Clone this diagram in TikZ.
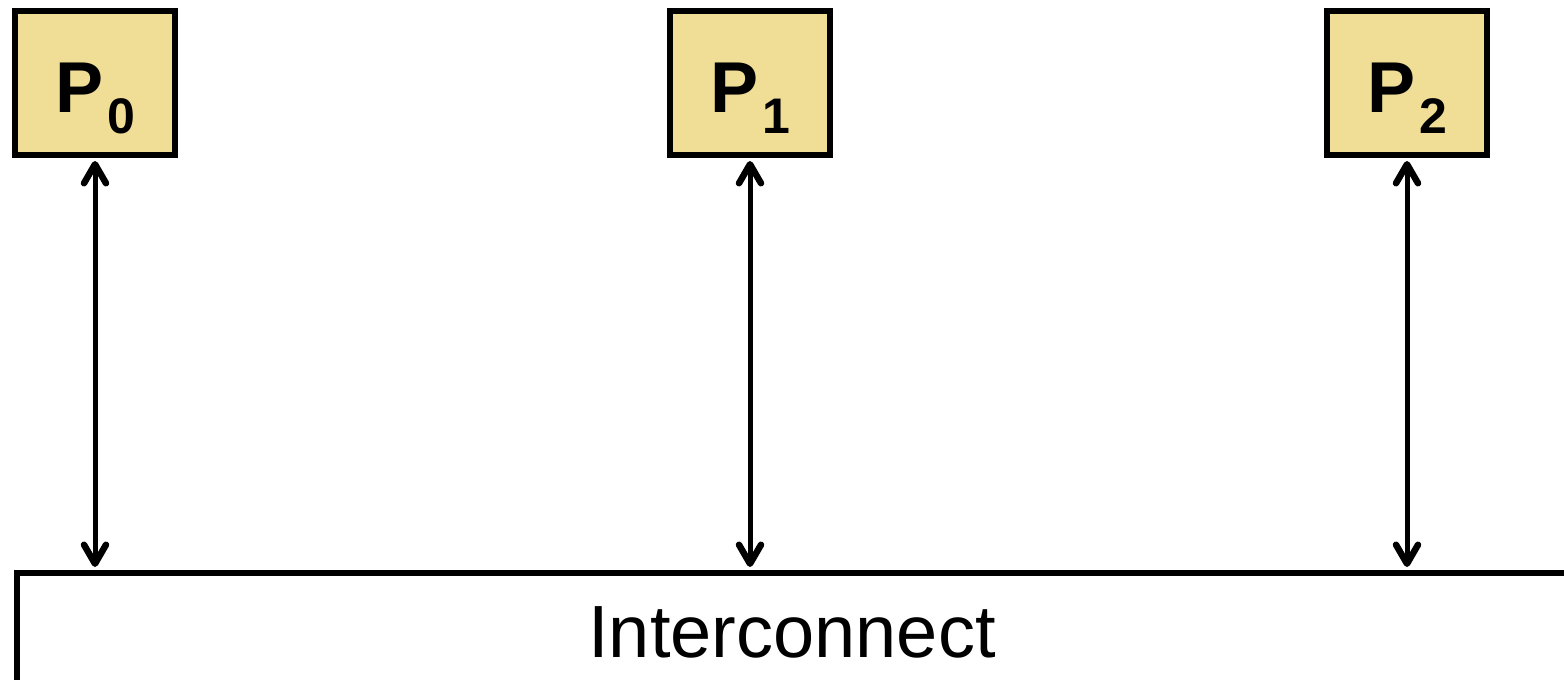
\documentclass[tikz,border=0pt]{standalone}
\usepackage{fontspec}
\setmainfont{Liberation Sans}
\usetikzlibrary{arrows.meta}
\definecolor{procfill}{RGB}{240,221,150}
\begin{document}
\begin{tikzpicture}[x=1pt,y=-1pt,
  proc/.style={draw=black, line width=6pt, fill=procfill, minimum width=160pt, minimum height=144pt, inner sep=0pt,
    font=\fontsize{72}{80}\selectfont\bfseries, text height=79pt, text depth=21pt},
  link/.style={line width=5pt, {Straight Barb[length=19pt,width=22pt,line width=6.5pt,round]}-{Straight Barb[length=19pt,width=22pt,line width=6.5pt,round]}},
  bus/.style={draw=black, line width=6pt, minimum width=1700pt, minimum height=300pt, inner sep=0pt, anchor=north west}]
\useasboundingbox (0,0) rectangle (1564,680);
\newcommand{\procsub}[1]{P\kern4pt\raisebox{-21pt}{\fontsize{50}{50}\selectfont #1}}
\node[proc] (P0) at (95,83) {\procsub{0}};
\node[proc] (P1) at (750,83) {\procsub{1}};
\node[proc] (P2) at (1407,83) {\procsub{2}};
\node[bus] (ic) at (14,570) {};
\node[anchor=base, font=\fontsize{74}{80}\selectfont] (iclabel) at (792,657) {Interconnect};
\draw[link] ([yshift=-3pt]P0.south) -- ([yshift=3pt]P0.south |- ic.north);
\draw[link] ([yshift=-3pt]P1.south) -- ([yshift=3pt]P1.south |- ic.north);
\draw[link] ([yshift=-3pt]P2.south) -- ([yshift=3pt]P2.south |- ic.north);
\end{tikzpicture}
\end{document}
